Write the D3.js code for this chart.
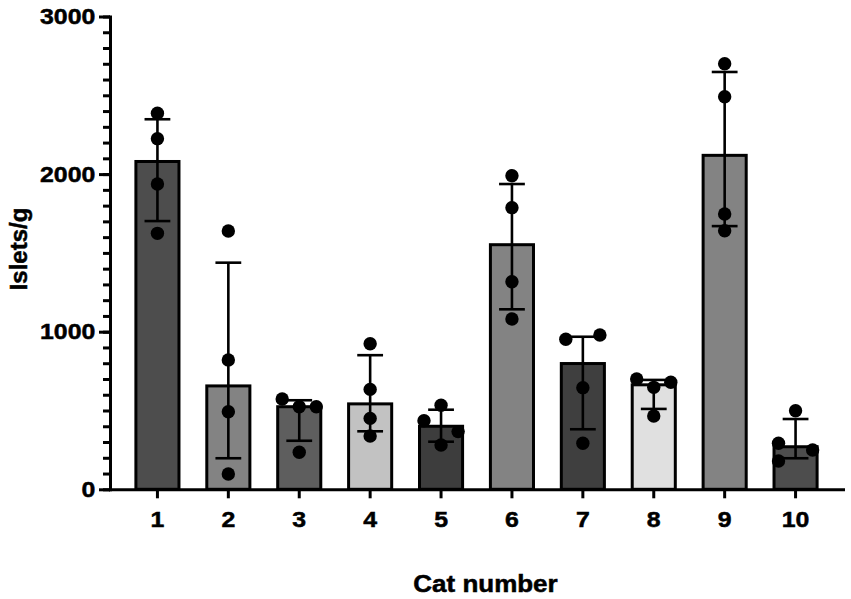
<!DOCTYPE html>
<html>
<head>
<meta charset="utf-8">
<script src="https://cdn.jsdelivr.net/npm/d3@7"></script>
<style>
  body { margin: 0; background: #fff; }
  text { font-family: "Liberation Sans", Arial, sans-serif; font-weight: bold; fill: #000;
         stroke: #000; stroke-width: 0.5px; }
</style>
</head>
<body>
<div id="container"></div>
<script>
// Width and height
let w = 851;
let h = 599;

// Data: median bar, interquartile range, individual cats
let categories = ["1", "2", "3", "4", "5", "6", "7", "8", "9", "10"];
let medians = [2080, 656, 524, 542, 400, 1552, 798, 663, 2119, 270];
let lowerQ = [1702, 197, 308, 368, 302, 1142, 381, 510, 1670, 197];
let upperQ = [2348, 1438, 565, 851, 505, 1937, 968, 694, 2648, 446];
let points = [
  [2386, 2225, 1937, 1624],
  [1639, 821, 492, 97],
  [573, 524, 524, 235],
  [924, 634, 450, 338],
  [533, 435, 366, 281],
  [1990, 1787, 1317, 1081],
  [979, 952, 645, 292],
  [700, 679, 647, 465],
  [2700, 2491, 1747, 1641],
  [498, 292, 249, 180]
];
// Scatter column of each dot (-1 left, 0 middle, 1 right), as laid out in the original
let pointSlots = [
  [0, 0, 0, 0],
  [0, 0, 0, 0],
  [-1, 0, 1, 0],
  [0, 0, 0, 0],
  [0, -1, 1, 0],
  [0, 0, 0, 0],
  [1, -1, 0, 0],
  [-1, 1, 0, 0],
  [0, 0, 0, 0],
  [0, -1, 1, -1]
];
let yMajorTicks = [0, 1000, 2000, 3000];

// Bar fills (greys)
let barGrays = ["#4d4d4d", "#838383", "#5e5e5e", "#c2c2c2", "#3d3d3d",
                "#838383", "#3f3f3f", "#e0e0e0", "#838383", "#4d4d4d"];

// Create SVG
let svg = d3.select("#container")
  .append("svg")
  .attr("width", w)
  .attr("height", h);

// Scales
let x = d3.scaleBand()
  .domain(categories)
  .range([110, 843])
  .paddingInner(0.35)
  .paddingOuter(0.344);

let y = d3.scaleLinear()
  .domain([0, 3000])
  .range([489.3, 16.5]);

let stretch = 1.13;   // glyphs in the original are a bit wider than Arial

// Bars
svg.selectAll("rect.bar")
  .data(categories)
  .enter()
  .append("rect")
    .attr("class", "bar")
    .attr("x", function(d) { return x(d) + 1.5; })
    .attr("width", x.bandwidth() - 3)
    .attr("y", function(d, i) { return y(medians[i]); })
    .attr("height", function(d, i) { return y(0) - y(medians[i]); })
    .style("fill", function(d, i) { return barGrays[i]; })
    .style("stroke", "#000")
    .style("stroke-width", 3);

// Error bars (interquartile range)
let capHalf = x.bandwidth() * 0.28;
let errs = svg.selectAll("g.err")
  .data(categories)
  .enter()
  .append("g")
    .attr("class", "err")
    .style("stroke", "#000")
    .style("stroke-width", 2.6);

errs.append("line")
  .attr("x1", function(d) { return x(d) + x.bandwidth() / 2; })
  .attr("x2", function(d) { return x(d) + x.bandwidth() / 2; })
  .attr("y1", function(d, i) { return y(lowerQ[i]); })
  .attr("y2", function(d, i) { return y(upperQ[i]); });

errs.append("line")
  .attr("x1", function(d) { return x(d) + x.bandwidth() / 2 - capHalf; })
  .attr("x2", function(d) { return x(d) + x.bandwidth() / 2 + capHalf; })
  .attr("y1", function(d, i) { return y(upperQ[i]); })
  .attr("y2", function(d, i) { return y(upperQ[i]); });

errs.append("line")
  .attr("x1", function(d) { return x(d) + x.bandwidth() / 2 - capHalf; })
  .attr("x2", function(d) { return x(d) + x.bandwidth() / 2 + capHalf; })
  .attr("y1", function(d, i) { return y(lowerQ[i]); })
  .attr("y2", function(d, i) { return y(lowerQ[i]); });

// Individual points
let slotStep = x.bandwidth() * 0.37;
let dots = [];
for (let i = 0; i < categories.length; i++) {
  for (let k = 0; k < points[i].length; k++) {
    dots.push({ cat: categories[i], value: points[i][k], slot: pointSlots[i][k] });
  }
}

svg.selectAll("circle.dot")
  .data(dots)
  .enter()
  .append("circle")
    .attr("class", "dot")
    .attr("cx", function(d) { return x(d.cat) + x.bandwidth() / 2 + d.slot * slotStep; })
    .attr("cy", function(d) { return y(d.value); })
    .attr("r", 6.7)
    .style("fill", "#000");

// Y axis: minor ticks every 100, labelled major ticks every 1000
svg.append("g")
  .attr("class", "yminor")
  .attr("transform", "translate(110,0)")
  .call(d3.axisLeft(y).ticks(30).tickSize(7).tickSizeOuter(0).tickFormat(""))
  .call(function(g) { g.select(".domain").remove(); });

let yAxis = svg.append("g")
  .attr("transform", "translate(110,0)")
  .call(d3.axisLeft(y).tickValues(yMajorTicks).tickFormat(d3.format("d"))
    .tickSize(11).tickSizeOuter(0).tickPadding(2));

yAxis.selectAll("text")
  .style("font-size", "22px")
  .attr("transform", "scale(" + stretch + ",1)");

// X axis
let xAxis = svg.append("g")
  .attr("transform", "translate(0," + y(0) + ")")
  .call(d3.axisBottom(x).tickSize(9).tickSizeOuter(0).tickPadding(13));

xAxis.selectAll("text")
  .style("font-size", "22px")
  .attr("transform", "scale(" + stretch + ",1)");

svg.selectAll(".domain, .tick line")
  .style("stroke", "#000")
  .style("stroke-width", 3);
svg.selectAll(".domain")
  .style("stroke-linecap", "square");

// Axis titles
svg.append("text")
  .attr("transform", "translate(485.5,591.5) scale(" + stretch + ",1)")
  .attr("text-anchor", "middle")
  .style("font-size", "23px")
  .text("Cat number");

svg.append("text")
  .attr("transform", "translate(27,249) rotate(-90)")
  .attr("text-anchor", "middle")
  .style("font-size", "24px")
  .text("Islets/g");
</script>
</body>
</html>
